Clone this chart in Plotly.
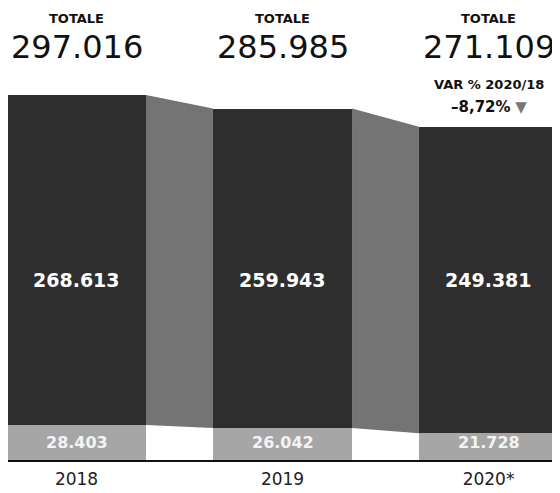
import plotly.graph_objects as go

years = ["2018", "2019", "2020*"]
bottom_vals = [28403, 26042, 21728]
top_vals = [268613, 259943, 249381]
totals = [297016, 285985, 271109]
var_label = "VAR % 2020/18"
var_value = "–8,72%"

def fmt(v):
    return f"{v:,}".replace(",", ".")

xs = list(range(len(years)))
W = 0.675
DARK = "#2e2e2e"
MID = "#747474"
LIGHT = "#a6a6a6"
FONT = "DejaVu Sans"

fig = go.Figure()

# connector bands between bars (upper part only; lower part stays white)
for i in range(len(xs) - 1):
    x0 = xs[i] + W / 2
    x1 = xs[i + 1] - W / 2
    fig.add_trace(go.Scatter(
        x=[x0, x1, x1, x0, x0],
        y=[totals[i], totals[i + 1], bottom_vals[i + 1], bottom_vals[i], totals[i]],
        fill="toself", fillcolor=MID, mode="lines", line=dict(width=0),
        hoverinfo="skip", showlegend=False))

fig.add_trace(go.Bar(x=xs, y=bottom_vals, width=W, marker=dict(color=LIGHT, line=dict(width=0)),
                     showlegend=False))
fig.add_trace(go.Bar(x=xs, y=top_vals, width=W, marker=dict(color=DARK, line=dict(width=0)),
                     showlegend=False))

annotations = []
for i, x in enumerate(xs):
    annotations.append(dict(x=x, y=1.163, xref="x", yref="paper", text="<b>TOTALE</b>",
                            showarrow=False, font=dict(family=FONT, size=13, color="#111111"),
                            yanchor="middle"))
    annotations.append(dict(x=x, y=1.087, xref="x", yref="paper", text=fmt(totals[i]),
                            showarrow=False, font=dict(family=FONT, size=32, color="#111111"),
                            yanchor="middle"))
    annotations.append(dict(x=x, y=0.474, xref="x", yref="paper", text="<b>" + fmt(top_vals[i]) + "</b>",
                            showarrow=False, font=dict(family=FONT, size=19, color="white"),
                            yanchor="middle"))
    annotations.append(dict(x=x, y=0.047, xref="x", yref="paper", text="<b>" + fmt(bottom_vals[i]) + "</b>",
                            showarrow=False, font=dict(family=FONT, size=16, color="#f4f4f4"),
                            yanchor="middle"))

annotations.append(dict(x=xs[-1], y=0.987, xref="x", yref="paper", text="<b>" + var_label + "</b>",
                        showarrow=False, font=dict(family=FONT, size=13, color="#111111"),
                        yanchor="middle"))
annotations.append(dict(x=xs[-1], y=0.929, xref="x", yref="paper",
                        text="<b>" + var_value + "</b> <span style='color:#777777'>▼</span>",
                        showarrow=False, font=dict(family=FONT, size=15, color="#111111"),
                        yanchor="middle"))

ymax = 380 / (365 / totals[0])

fig.update_layout(
    width=552, height=485,
    margin=dict(l=0, r=3, t=72, b=33),
    paper_bgcolor="white", plot_bgcolor="white",
    barmode="stack", bargap=0,
    annotations=annotations,
    xaxis=dict(range=[-0.3325, 2.3325], tickvals=xs, ticktext=years, showgrid=False,
               zeroline=False, showline=True, linecolor="#111111", linewidth=2,
               ticks="", ticklabelstandoff=3,
               tickfont=dict(family=FONT, size=17, color="#222222")),
    yaxis=dict(range=[0, ymax], visible=False, showgrid=False, zeroline=False),
)

fig.write_html("out.html")
